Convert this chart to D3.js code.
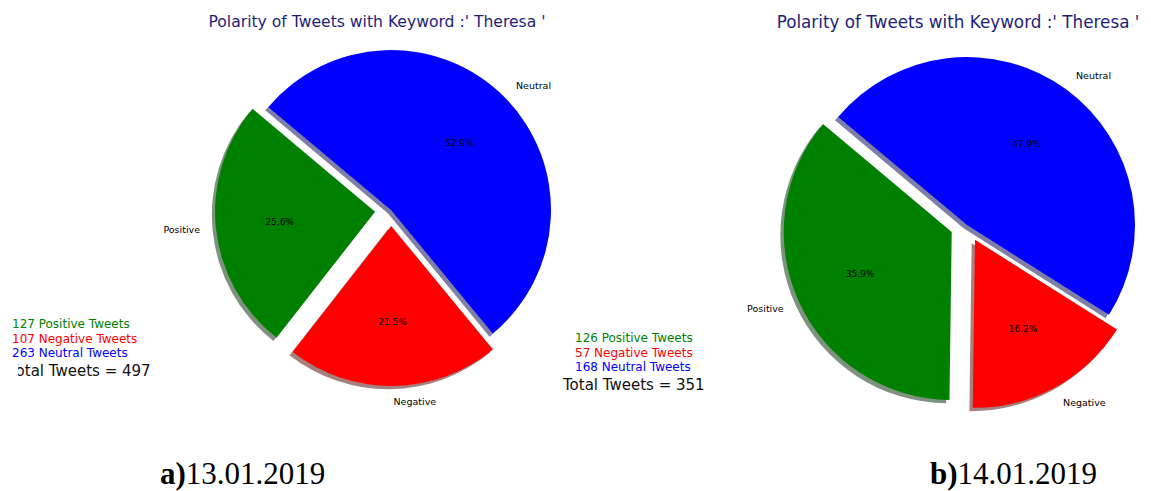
<!DOCTYPE html>
<html>
<head>
<meta charset="utf-8">
<script src="https://cdn.jsdelivr.net/npm/d3@7"></script>
<style>
  html, body { margin: 0; padding: 0; background: #fff; }
  svg { display: block; }
</style>
</head>
<body>
<svg id="chart" width="1151" height="491"></svg>
<script>
// Sentiment counts for the keyword "Theresa" on two days
const categories = ["Positive", "Negative", "Neutral"];
const sliceColors = ["#008000", "#ff0000", "#0000ff"];
const countsDay1 = [127, 107, 263];   // 13.01.2019
const countsDay2 = [126, 57, 168];    // 14.01.2019
const explodeFactors = [0.1, 0.1, 0];
const legendSuffix = ["Positive Tweets", "Negative Tweets", "Neutral Tweets"];
const chartTitle = "Polarity of Tweets with Keyword :' Theresa '";
const captionLetters = ["a)", "b)"];
const captionDates = ["13.01.2019", "14.01.2019"];

const svg = d3.select("#chart");
svg.append("rect").attr("width", 1151).attr("height", 491).attr("fill", "#fff");

const deg = Math.PI / 180;
const START_DEG = 140; // first slice starts at 140° and runs counter-clockwise

function drawPie(cfg) {
  const { counts, cx, cy, r } = cfg;
  const total = d3.sum(counts);
  const g = svg.append("g");

  // counter-clockwise pie: d3 angles run clockwise from 12 o'clock
  const a0 = (90 - START_DEG) * deg;
  const pie = d3.pie().sort(null).startAngle(a0).endAngle(a0 - 2 * Math.PI);
  const arcs = pie(counts);
  const arc = d3.arc().innerRadius(0).outerRadius(r);

  const offsetOf = (d, i) => {
    const m = (d.startAngle + d.endAngle) / 2;
    const e = explodeFactors[i] * r;
    return [cx + Math.sin(m) * e, cy - Math.cos(m) * e, m];
  };

  // shadows sit under every wedge, shifted slightly left and down
  const sh = 0.02 * r;
  arcs.forEach((d, i) => {
    const [x, y] = offsetOf(d, i);
    const c = d3.rgb(sliceColors[i]);
    g.append("path")
      .attr("d", arc(d))
      .attr("transform", `translate(${x - sh},${y + sh})`)
      .attr("fill", d3.rgb(c.r * 0.3, c.g * 0.3, c.b * 0.3))
      .attr("fill-opacity", 0.5);
  });

  arcs.forEach((d, i) => {
    const [x, y] = offsetOf(d, i);
    g.append("path")
      .attr("d", arc(d))
      .attr("transform", `translate(${x},${y})`)
      .attr("fill", sliceColors[i]);
  });

  // category labels at 1.1 r, percentages at 0.6 r
  arcs.forEach((d, i) => {
    const [x, y, m] = offsetOf(d, i);
    const lx = x + Math.sin(m) * r * 1.1;
    const ly = y - Math.cos(m) * r * 1.1;
    g.append("text")
      .attr("x", lx).attr("y", ly)
      .attr("dy", "0.35em")
      .attr("text-anchor", Math.sin(m) >= 0 ? "start" : "end")
      .attr("font-family", "DejaVu Sans, sans-serif")
      .attr("font-size", 9.5)
      .attr("fill", "#000")
      .text(categories[i]);

    const px = x + Math.sin(m) * r * 0.6;
    const py = y - Math.cos(m) * r * 0.6;
    g.append("text")
      .attr("x", px).attr("y", py)
      .attr("dy", "0.35em")
      .attr("text-anchor", "middle")
      .attr("font-family", "DejaVu Sans, sans-serif")
      .attr("font-size", 9)
      .attr("fill", "#000")
      .text((d.value / total * 100).toFixed(1) + "%");
  });

  // title
  svg.append("text")
    .attr("x", cfg.titleX).attr("y", cfg.titleY)
    .attr("text-anchor", "middle")
    .attr("font-family", "DejaVu Sans, sans-serif")
    .attr("font-size", cfg.titleSize)
    .attr("fill", "#1e1e78")
    .text(chartTitle);

  // count legend
  const lg = svg.append("g");
  counts.forEach((v, i) => {
    lg.append("text")
      .attr("x", cfg.legendX).attr("y", cfg.legendY + i * 14.3)
      .attr("dy", "0.35em")
      .attr("font-family", "DejaVu Sans, sans-serif")
      .attr("font-size", 12)
      .attr("fill", sliceColors[i])
      .text(`${v} ${legendSuffix[i]}`);
  });

  const tt = svg.append("text")
    .attr("x", cfg.totalX).attr("y", cfg.totalY)
    .attr("dy", "0.35em")
    .attr("font-family", "DejaVu Sans, sans-serif")
    .attr("font-size", 15)
    .attr("fill", "#111")
    .text(`Total Tweets = ${total}`);
  if (cfg.totalClip != null) tt.attr("clip-path", `url(#${cfg.totalClip})`);

  // caption below the pie
  const cap = svg.append("text")
    .attr("x", cfg.capX).attr("y", cfg.capY)
    .attr("font-family", "Liberation Serif, Times New Roman, serif")
    .attr("font-size", 31)
    .attr("fill", "#000");
  cap.append("tspan").attr("font-weight", "bold").text(cfg.capLetter);
  cap.append("tspan").text(cfg.capDate);
}

// the first panel's total line is cut at the panel's left edge
svg.append("defs").append("clipPath").attr("id", "clipLeft")
  .append("rect").attr("x", 18).attr("y", 0).attr("width", 400).attr("height", 491);

drawPie({
  counts: countsDay1, cx: 391, cy: 210, r: 160,
  titleX: 377, titleY: 27, titleSize: 15.6,
  legendX: 12, legendY: 324,
  totalX: 9, totalY: 371, totalClip: "clipLeft",
  capX: 160, capY: 484, capLetter: captionLetters[0], capDate: captionDates[0]
});

drawPie({
  counts: countsDay2, cx: 967, cy: 225, r: 168,
  titleX: 958, titleY: 28, titleSize: 16.8,
  legendX: 575, legendY: 338,
  totalX: 563, totalY: 385, totalClip: null,
  capX: 930, capY: 484, capLetter: captionLetters[1], capDate: captionDates[1]
});
</script>
</body>
</html>
